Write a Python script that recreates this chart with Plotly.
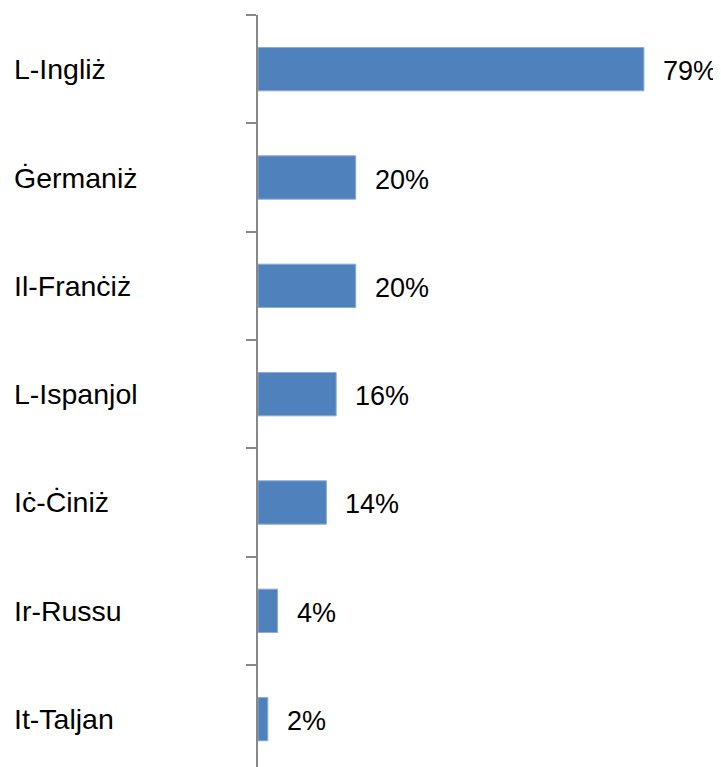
import plotly.graph_objects as go

categories = ["L-Ingliż", "Ġermaniż", "Il-Franċiż", "L-Ispanjol", "Iċ-Ċiniż", "Ir-Russu", "It-Taljan"]
values = [79, 20, 20, 16, 14, 4, 2]
value_labels = ["79%", "20%", "20%", "16%", "14%", "4%", "2%"]

# page body has an 8px default margin; compensate
OFF = 8
W, H = 721 - OFF, 767 - OFF
ML, MT = 258 - OFF, 15 - OFF
plot_w = W - ML
plot_h = H - MT

fig = go.Figure()
fig.add_trace(go.Bar(
    y=categories, x=values, orientation="h",
    marker=dict(color="#4F81BD", line=dict(color="#8EAAD6", width=1)),
    hoverinfo="skip",
))

font_cat = dict(family="Liberation Sans, Arial, sans-serif", size=28.5, color="#000000")
font_val = dict(family="Liberation Sans, Arial, sans-serif", size=27, color="#000000")

annotations = []
for c, v, t in zip(categories, values, value_labels):
    annotations.append(dict(x=v, y=c, xref="x", yref="y", text=t, showarrow=False,
                            xanchor="left", yanchor="middle", xshift=17, yshift=-2,
                            font=font_val))
    annotations.append(dict(x=-(ML - (12 - OFF)) / plot_w, y=c, xref="paper", yref="y", text=c,
                            showarrow=False, xanchor="left", yanchor="middle",
                            font=font_cat))

fig.update_layout(
    width=W, height=H,
    margin=dict(l=ML, r=0, t=MT, b=0, pad=0),
    paper_bgcolor="white", plot_bgcolor="white",
    showlegend=False, bargap=0.6,
    annotations=annotations,
    xaxis=dict(range=[0, plot_w / 4.885], visible=False, showgrid=False, zeroline=False),
    yaxis=dict(
        categoryorder="array", categoryarray=categories,
        range=[-0.5 + plot_h / 108.33, -0.5],
        showline=True, linecolor="#888888", linewidth=2,
        ticks="outside", tickson="boundaries", ticklen=10, tickwidth=2, tickcolor="#888888",
        showticklabels=False, showgrid=False, zeroline=False,
    ),
)

fig.write_html("out.html")
